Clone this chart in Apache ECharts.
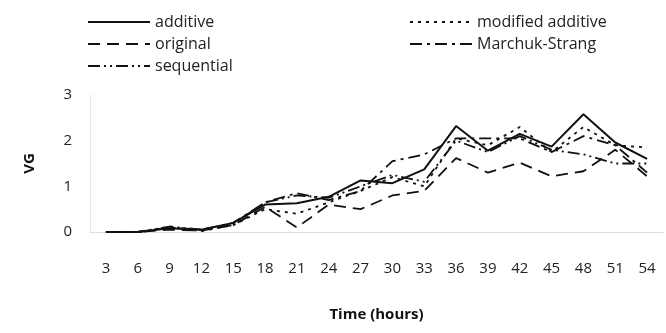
<!DOCTYPE html>
<html>
<head>
<meta charset="utf-8">
<script src="https://cdn.jsdelivr.net/npm/echarts@6/dist/echarts.min.js"></script>
<style>html,body{margin:0;padding:0;background:#fff}#c{width:666px;height:333px}</style>
</head>
<body>
<div id="c"></div>
<script>
const categories = ['3','6','9','12','15','18','21','24','27','30','33','36','39','42','45','48','51','54'];
const additive = [0, 0, 0.08, 0.05, 0.2, 0.6, 0.63, 0.77, 1.13, 1.07, 1.37, 2.32, 1.78, 2.15, 1.87, 2.58, 1.96, 1.6];
const original = [0, 0, 0.05, 0.03, 0.15, 0.55, 0.1, 0.6, 0.5, 0.8, 0.9, 1.62, 1.3, 1.52, 1.22, 1.33, 1.8, 1.22];
const modifiedAdditive = [0, 0, 0.1, 0.02, 0.15, 0.5, 0.4, 0.65, 0.9, 1.2, 1.0, 2.05, 1.9, 2.3, 1.75, 2.3, 1.9, 1.85];
const marchukStrang = [0, 0, 0.1, 0.05, 0.2, 0.65, 0.85, 0.7, 0.9, 1.55, 1.7, 2.05, 2.05, 2.05, 1.75, 2.1, 1.9, 1.3];
const sequential = [0, 0, 0.12, 0.05, 0.18, 0.65, 0.8, 0.75, 1.0, 1.25, 1.1, 2.0, 1.75, 2.1, 1.8, 1.7, 1.5, 1.5];
const yTicks = [0, 1, 2, 3];

const FONT = 'Open Sans';
const ink = '#111';
function mk(name, data, type, width) {
  return {
    name: name, type: 'line', data: data, symbol: 'none', showSymbol: false, smooth: false,
    lineStyle: { color: ink, width: width, type: type },
    itemStyle: { color: ink }
  };
}
const chart = echarts.init(document.getElementById('c'), null, { renderer: 'canvas' });
const legText = { fontFamily: FONT, fontSize: 16, color: '#222' };
const legCommon = {
  orient: 'vertical', itemWidth: 62, itemHeight: 10, itemGap: 6, top: 9,
  itemStyle: { opacity: 0 }, textStyle: legText
};
chart.setOption({
  backgroundColor: '#fff',
  animation: false,
  legend: [
    Object.assign({ left: 82, data: ['additive', 'original', 'sequential'] }, legCommon),
    Object.assign({ left: 404, data: ['modified additive', 'Marchuk-Strang'] }, legCommon)
  ],
  grid: { left: 90, right: 3, top: 95, bottom: 101 },
  xAxis: {
    type: 'category', data: categories, boundaryGap: true,
    name: 'Time (hours)', nameLocation: 'middle', nameGap: 75,
    nameTextStyle: { fontFamily: FONT, fontSize: 15, fontWeight: 'bold', color: '#111' },
    axisLine: { lineStyle: { color: '#d8d8d8', type: 'dotted' } },
    axisTick: { show: false },
    axisLabel: { margin: 29, fontFamily: FONT, fontSize: 15, color: '#222' },
    splitLine: { show: false }
  },
  yAxis: {
    type: 'value', min: yTicks[0], max: yTicks[yTicks.length - 1], interval: 1,
    name: 'VG', nameLocation: 'middle', nameGap: 53,
    nameTextStyle: { fontFamily: FONT, fontSize: 15, fontWeight: 'bold', color: '#111' },
    axisLine: { show: true, lineStyle: { color: '#e0e0e0', type: 'dotted' } },
    axisTick: { show: false },
    axisLabel: { margin: 18, fontFamily: FONT, fontSize: 15, color: '#222' },
    splitLine: { show: false }
  },
  series: [
    mk('additive', additive, 'solid', 2),
    mk('original', original, [12, 7], 1.8),
    mk('sequential', sequential, [12, 4, 2, 4, 2, 4], 1.8),
    mk('modified additive', modifiedAdditive, [3, 5], 1.8),
    mk('Marchuk-Strang', marchukStrang, [12, 5, 3, 5], 1.8)
  ]
});
</script>
</body>
</html>
